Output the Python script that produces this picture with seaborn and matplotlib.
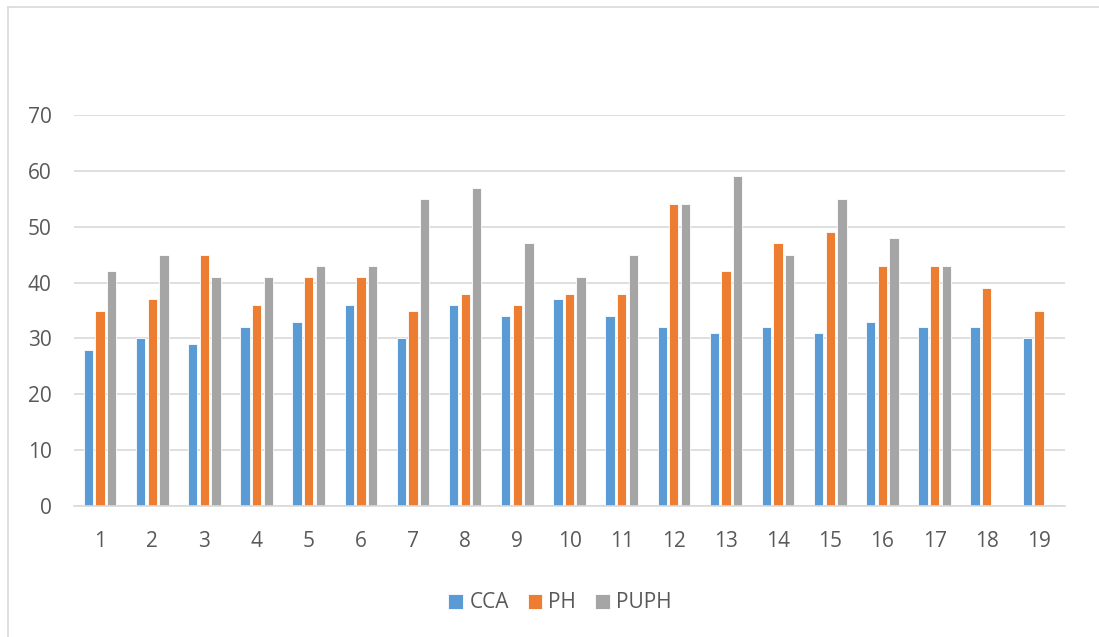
import numpy as np
import pandas as pd
import seaborn as sns
import matplotlib.pyplot as plt
from matplotlib.lines import Line2D

# Dados
amostras = [str(i) for i in range(1, 20)]
cca = [28, 30, 29, 32, 33, 36, 30, 36, 34, 37, 34, 32, 31, 32, 31, 33, 32, 32, 30]
ph = [35, 37, 45, 36, 41, 41, 35, 38, 36, 38, 38, 54, 42, 47, 49, 43, 43, 39, 35]
puph = [42, 45, 41, 41, 43, 43, 55, 57, 47, 41, 45, 54, 59, 45, 55, 48, 43, np.nan, np.nan]

series = ['CCA', 'PH', 'PUPH']
cores = ['#5B9BD5', '#ED7D31', '#A5A5A5']

# Monta tabela longa para o seaborn
df = pd.DataFrame({'amostra': amostras, 'CCA': cca, 'PH': ph, 'PUPH': puph})
df_long = df.melt(id_vars='amostra', var_name='serie', value_name='valor')

sns.set_style('white')
plt.rcParams['font.family'] = ['Open Sans', 'DejaVu Sans']
cor_texto = '#595959'

fig = plt.figure(figsize=(10.99, 6.37), dpi=100)
ax = fig.add_axes([74 / 1099, 1 - 506 / 637, (1065 - 74) / 1099, (506 - 115) / 637])

sns.barplot(data=df_long, x='amostra', y='valor', hue='serie', order=amostras,
            hue_order=series, palette=cores, saturation=1, width=0.67, gap=0.2,
            edgecolor='white', linewidth=0.6, ax=ax)

ax.set_ylim(0, 70)
ax.set_xlim(-0.5, len(amostras) - 0.5)
ax.set_yticks(range(0, 71, 10))
ax.yaxis.grid(True, color='#D9D9D9', linewidth=1.2)
ax.set_axisbelow(True)
for lado in ['top', 'right', 'left']:
    ax.spines[lado].set_visible(False)
ax.spines['bottom'].set_color('#D9D9D9')
ax.spines['bottom'].set_linewidth(1.2)
ax.tick_params(axis='both', length=0, labelsize=15, labelcolor=cor_texto)
ax.tick_params(axis='y', pad=16)
ax.tick_params(axis='x', pad=18)
ax.set_xlabel('')
ax.set_ylabel('')

# Legenda embaixo
leg = ax.legend(loc='center', bbox_to_anchor=(560 / 1099, 1 - 603 / 637),
                bbox_transform=fig.transFigure, ncol=3, frameon=False,
                fontsize=15, handlelength=0.7, handleheight=0.7,
                handletextpad=0.3, columnspacing=0.9)
for t in leg.get_texts():
    t.set_color(cor_texto)

# Borda da área do gráfico
fig.add_artist(Line2D([8 / 1099, 8 / 1099], [0, 1 - 7 / 637], color='#D9D9D9', linewidth=1.2))
fig.add_artist(Line2D([8 / 1099, 1], [1 - 7 / 637, 1 - 7 / 637], color='#D9D9D9', linewidth=1.2))

fig.savefig('out.png', dpi=100)
